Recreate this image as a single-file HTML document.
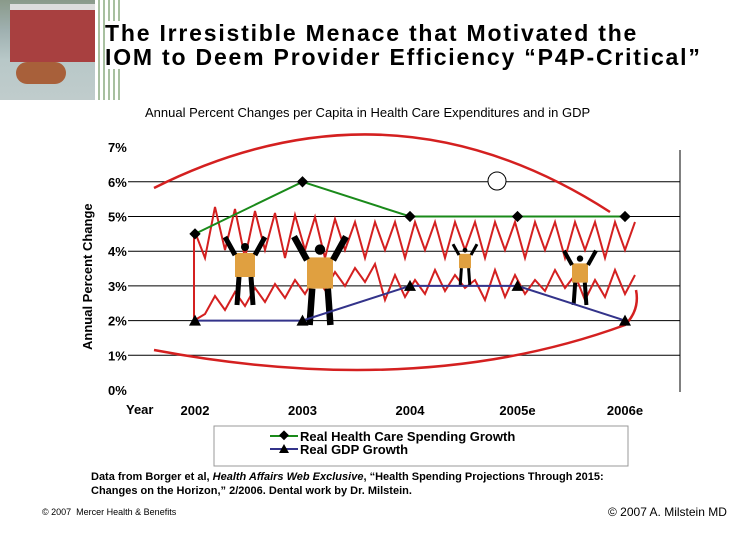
<!DOCTYPE html>
<html><head><meta charset="utf-8"><style>
body{margin:0;width:756px;height:540px;background:#fff;font-family:"Liberation Sans",sans-serif;position:relative;overflow:hidden}
.a{position:absolute}
</style></head><body>
<div class="a" style="left:0;top:0;width:95px;height:100px;background:linear-gradient(180deg,#8a9a8a 0,#9fb0b0 30%,#b8c8c8 60%,#c0cccc 100%)">
 <div class="a" style="left:10px;top:4px;width:85px;height:52px;background:#a84040;border-top:6px solid #ddd"></div>
 <div class="a" style="left:16px;top:62px;width:50px;height:22px;background:#a8603a;border-radius:12px"></div>
</div>
<div class="a" style="left:95px;top:0;width:25px;height:100px;background:repeating-linear-gradient(90deg,#fff 0,#fff 3px,#a8c0a0 3px,#a8c0a0 5px)"></div>
<div class="a" style="left:105px;top:21px;font-size:23px;font-weight:bold;line-height:24px;letter-spacing:1.8px;color:#000;background:#fff;white-space:nowrap">The Irresistible Menace that Motivated the<br>IOM to Deem Provider Efficiency “P4P-Critical”</div>
<div class="a" style="left:145px;top:105px;font-size:13px">Annual Percent Changes per Capita in Health Care Expenditures and in GDP</div>
<svg class="a" style="left:0;top:0" width="756" height="540">
<g id="grid"></g><g id="deco"></g><g id="series"></g><g id="labels"></g>
<text x="92" y="350" transform="rotate(-90 92 350)" font-size="13" font-weight="bold" font-family="Liberation Sans">Annual Percent Change</text>
<line x1="680" y1="150" x2="680" y2="392" stroke="#000"/>
<rect x="214" y="426" width="414" height="40" fill="none" stroke="#999"/>
<line x1="270" y1="436" x2="298" y2="436" stroke="#1a8a1a" stroke-width="2"/><rect x="280" y="432" width="7" height="7" transform="rotate(45 284 436)" fill="#000"/>
<text x="300" y="441" font-size="13" font-weight="bold" font-family="Liberation Sans">Real Health Care Spending Growth</text>
<line x1="270" y1="449" x2="298" y2="449" stroke="#33338a" stroke-width="2"/><polygon points="284,444 289,453 279,453" fill="#000"/>
<text x="300" y="454" font-size="13" font-weight="bold" font-family="Liberation Sans">Real GDP Growth</text>
</svg>
<div class="a" style="left:91px;top:470px;font-size:11px;line-height:14px;font-weight:bold">Data from Borger et al, <i>Health Affairs Web Exclusive</i>, “Health Spending Projections Through 2015:<br>Changes on the Horizon,” 2/2006. Dental work by Dr. Milstein.</div>
<div class="a" style="left:42px;top:507px;font-size:9px">© 2007 &nbsp;Mercer Health &amp; Benefits</div>
<div class="a" style="left:608px;top:505px;font-size:12px">© 2007 A. Milstein MD</div>
<script>
const years=["2002","2003","2004","2005e","2006e"];
const health=[4.5,6,5,5,5];
const gdp=[2,2,3,3,2];
const yTicks=[0,1,2,3,4,5,6,7];
const NS="http://www.w3.org/2000/svg";
const X=i=>195+i*107.5, Y=v=>390-v*34.7;
function mk(t,a,p){const e=document.createElementNS(NS,t);for(const k in a)e.setAttribute(k,a[k]);document.getElementById(p).appendChild(e);return e;}
yTicks.forEach(v=>{
 if(v>0&&v<7){const l=mk('line',{x1:128,x2:680,y1:Y(v),y2:Y(v),stroke:'#000'},'grid');
 
 }
 const t=mk('text',{x:108,y:Y(v)+5,'font-size':13,'font-weight':'bold','font-family':'Liberation Sans'},'labels');t.textContent=v+'%';
 
 
});
const yl=mk('text',{x:126,y:414,'font-size':13,'font-weight':'bold','font-family':'Liberation Sans'},'labels');yl.textContent='Year';
years.forEach((y,i)=>{const t=mk('text',{x:X(i),y:415,'font-size':13,'font-weight':'bold','text-anchor':'middle','font-family':'Liberation Sans'},'labels');t.textContent=y;
 
 });
mk('path',{d:'M154,188 Q390,70 610,212',fill:'none',stroke:'#d42020','stroke-width':2.5},'deco');
mk('path',{d:'M154,350 Q420,400 625,325 Q640,310 636,290',fill:'none',stroke:'#d42020','stroke-width':2.5},'deco');
mk('line',{x1:194,y1:232,x2:194,y2:320,stroke:'#d42020','stroke-width':2},'deco');
mk('circle',{cx:497,cy:181,r:9,fill:'#fff',stroke:'#000'},'deco');
let up='M195,232',lo='M195,320';
for(let k=1;k<=22;k++){const x=195+k*20;up+=` L${x-10},${250+(k%2)*8} L${x},${k<8?205+k*2:222}`;lo+=` L${x-10},${k<10?318-k*4:300-((k-10)%5)*3} L${x},${k<10?300-k*4:270+k%3*5}`;}
mk('path',{d:up,fill:'none',stroke:'#d42020','stroke-width':2},'deco');
mk('path',{d:lo,fill:'none',stroke:'#d42020','stroke-width':2},'deco');
[[245,255,1],[320,260,1.3],[465,255,0.6],[580,265,0.8]].forEach(([x,y,s])=>{
 mk('circle',{cx:x,cy:y-8*s,r:4*s,fill:'#000'},'deco');
 mk('rect',{x:x-10*s,y:y-2*s,width:20*s,height:24*s,fill:'#e0a040'},'deco');
 mk('path',{d:`M${x-10*s},${y} L${x-20*s},${y-18*s} M${x+10*s},${y} L${x+20*s},${y-18*s} M${x-6*s},${y+22*s} L${x-8*s},${y+50*s} M${x+6*s},${y+22*s} L${x+8*s},${y+50*s}`,stroke:'#000','stroke-width':5*s,fill:'none'},'deco');
});
function line(data,col,name){const p=mk('polyline',{points:data.map((v,i)=>X(i)+','+Y(v)).join(' '),fill:'none',stroke:col,'stroke-width':2},'series');
 
 }
line(health,'#1a8a1a','health-line');line(gdp,'#33338a','gdp-line');
health.forEach((v,i)=>{const r=mk('rect',{x:X(i)-4,y:Y(v)-4,width:8,height:8,fill:'#000',transform:`rotate(45 ${X(i)} ${Y(v)})`},'series');
 
 });
gdp.forEach((v,i)=>{const p=mk('polygon',{points:`${X(i)},${Y(v)-6} ${X(i)+6},${Y(v)+5} ${X(i)-6},${Y(v)+5}`,fill:'#000'},'series');
 
 });
</script>
</body></html>
